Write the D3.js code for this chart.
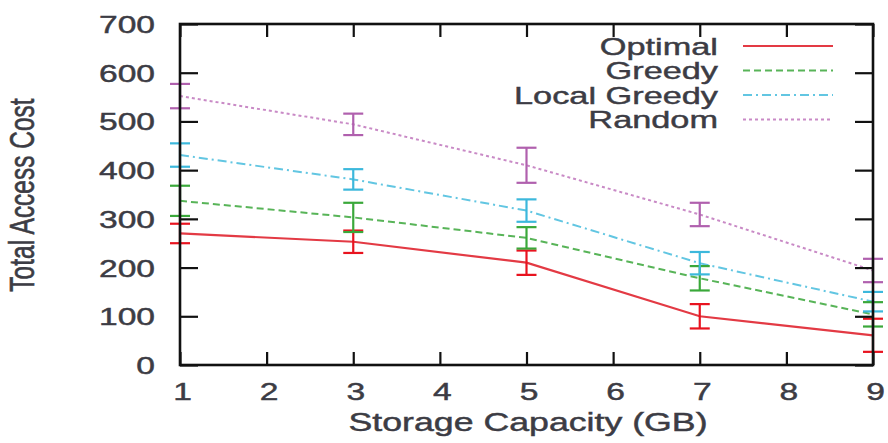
<!DOCTYPE html>
<html>
<head>
<meta charset="utf-8">
<script src="https://cdn.jsdelivr.net/npm/d3@7"></script>
<style>
  body { margin: 0; background: #fff; }
  svg { display: block; font-family: "Liberation Sans", Arial, sans-serif; }
  svg text { stroke: #3c3c44; stroke-width: 0.45px; }
</style>
</head>
<body>
<div id="chart"></div>
<script>
// storage capacity (GB) where measurements were taken
const capacity = [1, 3, 5, 7, 9];
const xTicks = [1, 2, 3, 4, 5, 6, 7, 8, 9];
const yTicks = [0, 100, 200, 300, 400, 500, 600, 700];

// total access cost and error (half bar) per algorithm
const optimal = [270, 253, 210, 100, 61];
const optimalErr = [20, 23, 25, 25, 34];
const greedy = [337, 303, 261, 178, 104];
const greedyErr = [31, 30, 22, 25, 25];
const localGreedy = [431, 381, 317, 209, 130];
const localGreedyErr = [24, 21, 23, 23, 20];
const random = [552, 494, 410, 309, 194];
const randomErr = [25, 22, 36, 24, 24];

const names = ["Optimal", "Greedy", "Local Greedy", "Random"];

const width = 888, height = 443;
const margin = {left: 180, right: 15, top: 24, bottom: 78};
const sx = 1.4; // the picture is stretched sideways

const series = [
  {name: names[0], vals: optimal, err: optimalErr, line: "#e33a44", bar: "#e8131f", dash: null, w: 2.2},
  {name: names[1], vals: greedy, err: greedyErr, line: "#58b458", bar: "#3aa83a", dash: "7,4", w: 2},
  {name: names[2], vals: localGreedy, err: localGreedyErr, line: "#62c6e2", bar: "#3cb8dc", dash: "9,4,2,4", w: 2},
  {name: names[3], vals: random, err: randomErr, line: "#c98ac6", bar: "#b060ae", dash: "3,3", w: 2}
];

const x = d3.scaleLinear().domain([1, 9]).range([margin.left, width - margin.right]);
const y = d3.scaleLinear().domain([0, 700]).range([height - margin.bottom, margin.top]);

const svg = d3.select("#chart").append("svg")
  .attr("width", width)
  .attr("height", height)
  .attr("viewBox", [0, 0, width, height]);

const textColor = "#3c3c44";

// data lines
const line = d3.line().x((d, i) => x(capacity[i])).y(d => y(d));
svg.append("g").selectAll("path")
  .data(series)
  .join("path")
  .attr("fill", "none")
  .attr("stroke", d => d.line)
  .attr("stroke-width", d => d.w)
  .attr("stroke-dasharray", d => d.dash)
  .attr("d", d => line(d.vals));

// error bars
const capW = 10;
series.forEach(s => {
  const g = svg.append("g").attr("stroke", s.bar).attr("stroke-width", 2.2).attr("fill", "none");
  capacity.forEach((c, i) => {
    const lo = y(s.vals[i] - s.err[i]), hi = y(s.vals[i] + s.err[i]), cx = x(c);
    g.append("path").attr("d", d3.line()([[cx, lo], [cx, hi]]));
    g.append("path").attr("d", d3.line()([[cx - capW, lo], [cx + capW, lo]]));
    g.append("path").attr("d", d3.line()([[cx - capW, hi], [cx + capW, hi]]));
  });
});

// axes, ticks pointing inward on all four sides
const drawAxis = (axis, tx, ty) => {
  const g = svg.append("g")
    .attr("transform", `translate(${tx}, ${ty})`)
    .call(axis);
  g.select(".domain").remove();
  g.selectAll(".tick line").attr("stroke", "#111").attr("stroke-width", 2.2);
  return g;
};

const leftAxis = drawAxis(d3.axisLeft(y).tickValues(yTicks).tickSize(-18), margin.left, 0);
leftAxis.selectAll(".tick text")
  .attr("x", null).attr("dy", null)
  .attr("transform", "translate(-25, 8.5) scale(1.4, 1)")
  .attr("text-anchor", "end")
  .attr("font-size", 24)
  .attr("font-family", null)
  .attr("fill", textColor);

const rightAxis = drawAxis(d3.axisRight(y).tickValues(yTicks).tickSize(-18), width - margin.right, 0);
rightAxis.selectAll(".tick text").remove();

const bottomAxis = drawAxis(d3.axisBottom(x).tickValues(xTicks).tickSize(-13), 0, height - margin.bottom);
bottomAxis.selectAll(".tick text")
  .attr("y", null).attr("dy", null)
  .attr("transform", "translate(2, 35) scale(1.4, 1)")
  .attr("text-anchor", "middle")
  .attr("font-size", 24)
  .attr("font-family", null)
  .attr("fill", textColor);

const topAxis = drawAxis(d3.axisTop(x).tickValues(xTicks).tickSize(-13), 0, margin.top);
topAxis.selectAll(".tick text").remove();

// frame
svg.append("rect")
  .attr("x", margin.left).attr("y", margin.top)
  .attr("width", width - margin.left - margin.right)
  .attr("height", height - margin.top - margin.bottom)
  .attr("fill", "none")
  .attr("stroke", "#111")
  .attr("stroke-width", 2.6);

// axis titles
svg.append("text")
  .attr("transform", `translate(528, 431) scale(${sx}, 1)`)
  .attr("text-anchor", "middle")
  .attr("font-size", 25.5)
  .attr("fill", textColor)
  .text("Storage Capacity (GB)");

svg.append("text")
  .attr("transform", `translate(34, 195) rotate(-90) scale(1, ${sx})`)
  .attr("text-anchor", "middle")
  .attr("font-size", 24.5)
  .attr("fill", textColor)
  .text("Total Access Cost");

// legend
const legend = svg.append("g").selectAll("g")
  .data(series)
  .join("g")
  .attr("transform", (d, i) => `translate(0, ${46 + i * 24.5})`);

legend.append("text")
  .attr("transform", `translate(718, 8.5) scale(${sx}, 1)`)
  .attr("text-anchor", "end")
  .attr("font-size", 24.5)
  .attr("fill", textColor)
  .text(d => d.name);

legend.append("path")
  .attr("fill", "none")
  .attr("stroke", d => d.line)
  .attr("stroke-width", d => d.w)
  .attr("stroke-dasharray", d => d.dash)
  .attr("d", d3.line()([[743, 0], [833, 0]]));
</script>
</body>
</html>
